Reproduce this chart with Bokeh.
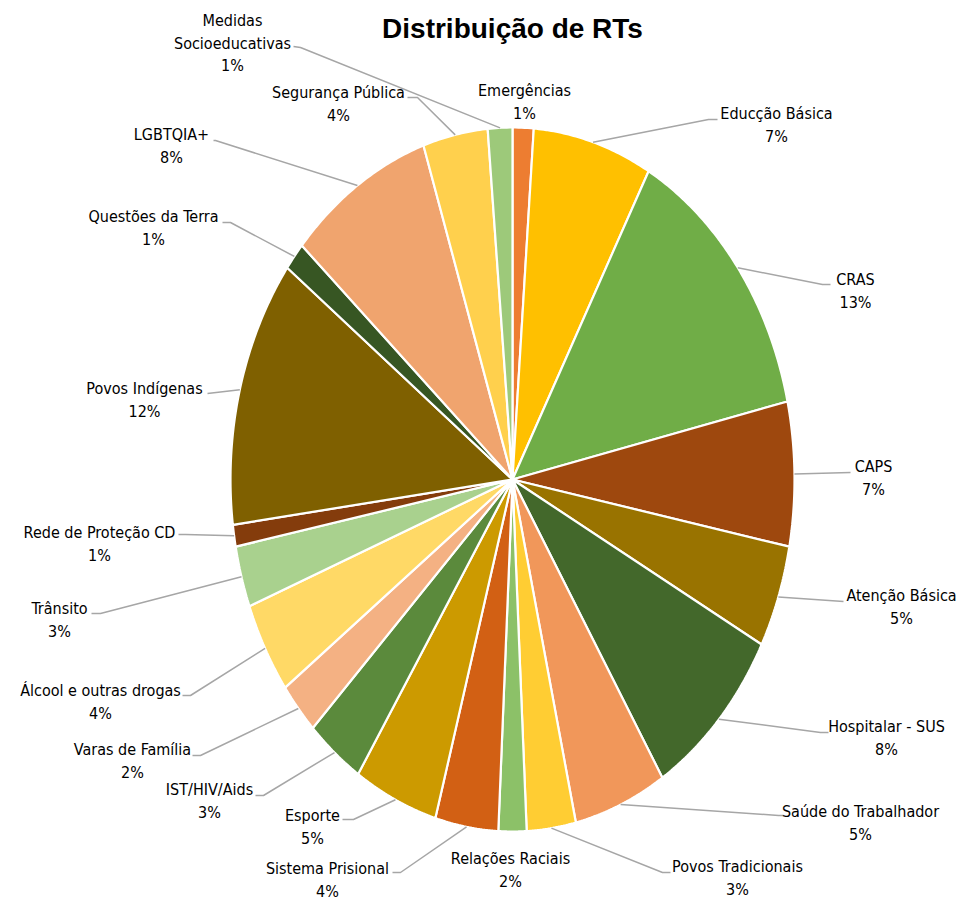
import numpy as np
from bokeh.plotting import figure
from bokeh.models import Range1d
from bokeh.embed import file_html
from bokeh.resources import INLINE
from bokeh.core.properties import value

# ---------------- data ----------------
title = "Distribuição de RTs"
categories = ["Emergências", "Educção Básica", "CRAS", "CAPS", "Atenção Básica",
              "Hospitalar - SUS", "Saúde do Trabalhador", "Povos Tradicionais",
              "Relações Raciais", "Sistema Prisional", "Esporte", "IST/HIV/Aids",
              "Varas de Família", "Álcool e outras drogas", "Trânsito",
              "Rede de Proteção CD", "Povos Indígenas", "Questões da Terra",
              "LGBTQIA+", "Segurança Pública", "Medidas\nSocioeducativas"]
values = [1.2, 6.8, 13.4, 6.6, 4.7, 8.3, 5.3, 2.8, 1.6, 3.6, 4.8, 3.3,
          2.4, 4.2, 2.8, 1.0, 12.3, 1.3, 8.3, 3.7, 1.4]
colors = ["#ED7D31", "#FFC000", "#70AD47", "#9E480E", "#997300", "#43682B",
          "#F1975A", "#FFCD33", "#8CC168", "#D26014", "#CC9A00", "#5B8A3C",
          "#F4B183", "#FFD966", "#A9D18E", "#843C0C", "#7F6000", "#375623",
          "#F0A46E", "#FFD04D", "#9DC97A"]

# ---------------- layout (screen px) ----------------
W, H = 957, 900
CX, CY, RX, RY = 512, 479, 282, 352
label_pos = [(524, 90), (776, 113), (855, 279), (873, 466), (901, 595),
             (886, 726), (860, 811), (737, 866), (510, 858), (327, 868),
             (312, 815), (209, 789), (132, 749), (100, 690), (59, 608),
             (99, 532), (144, 388), (153, 216), (171, 134), (338, 92),
             (232, 20)]
leader_pts = [None, ((708, 119), (717, 119)), ((822, 284), (830, 284)),
              ((850, 472), (850, 472)), ((843, 601), (843, 601)),
              ((820, 732), (828, 732)), ((778, 815), (783, 815)),
              ((662, 872), (670, 872)), None, ((400, 872), (392, 872)),
              ((353, 819), (342, 819)), ((263, 795), (255, 795)),
              ((200, 755), (192, 755)), ((190, 695), (182, 695)),
              ((100, 613), (91, 613)), ((185, 534), (178, 534)),
              ((207, 393), (207, 393)), ((230, 222), (222, 222)),
              ((215, 140), (213, 140)), ((417, 97), (407, 97)),
              ((300, 47), (293, 46))]
LINE_H = 22.5
FONT = "DejaVu Sans Condensed, Liberation Sans, sans-serif"

p = figure(width=W, height=H, output_backend="svg", toolbar_location=None,
           x_range=Range1d(0, W), y_range=Range1d(H, 0),
           min_border=0, outline_line_color=None)
p.axis.visible = False
p.grid.visible = False

total = float(sum(values))
fr = np.cumsum([0.0] + [v / total for v in values])
xs, ys = [], []
mids = []
for i in range(len(values)):
    a0, a1 = fr[i] * 2 * np.pi, fr[i + 1] * 2 * np.pi
    t = np.linspace(a0, a1, max(4, int((a1 - a0) * 180 / np.pi * 2)))
    xs.append([CX] + list(CX + RX * np.sin(t)))
    ys.append([CY] + list(CY - RY * np.cos(t)))
    mids.append((a0 + a1) / 2)

p.patches(xs, ys, fill_color=colors, line_color="white", line_width=2.2)

# leader lines
lx, ly = [], []
for i, lp in enumerate(leader_pts):
    if lp is None:
        continue
    m = mids[i]
    sx, sy = CX + RX * np.sin(m), CY - RY * np.cos(m)
    lx.append([sx, lp[0][0], lp[1][0]])
    ly.append([sy, lp[0][1], lp[1][1]])
p.multi_line(lx, ly, line_color="#A6A6A6", line_width=1.5)

# labels
tx, ty, tt = [], [], []
for i, cat in enumerate(categories):
    lines = cat.split("\n") + [f"{round(values[i] / total * 100)}%"]
    x0, y0 = label_pos[i]
    for k, ln in enumerate(lines):
        tx.append(x0)
        ty.append(y0 + k * LINE_H)
        tt.append(ln)
p.text(tx, ty, text=tt, text_font=value(FONT), text_font_size="16px",
       text_align="center", text_baseline="middle", text_color="#000000")

p.text([512], [28], text=[title], text_font=value("Liberation Sans"),
       text_font_size="28px", text_font_style="bold", text_align="center",
       text_baseline="middle", text_color="#000000")

open("out.html", "w").write(file_html(p, INLINE))
